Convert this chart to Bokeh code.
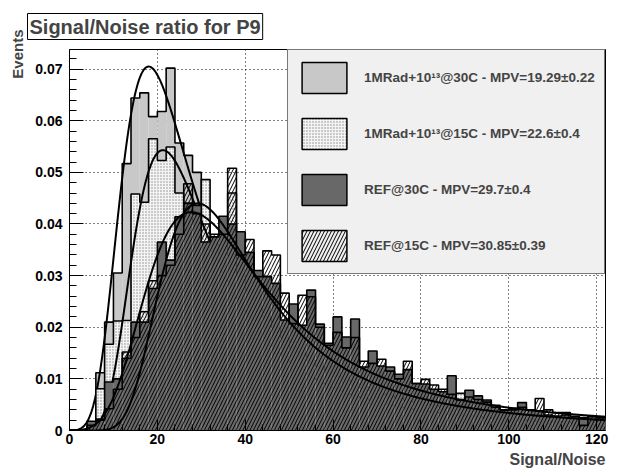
import numpy as np
from bokeh.plotting import figure
from bokeh.models import (Range1d, Title, Legend, LegendItem, FixedTicker,
                          CustomJSTickFormatter)
from bokeh.embed import file_html
from bokeh.resources import INLINE

# ---------------- data ----------------
bin_edges = [2.0 * k for k in range(62)]          # 61 bins of width 2, 0..122

irr30 = [0, 0, 0.0008, 0.0112, 0.021, 0.0305, 0.0517, 0.0644, 0.0654, 0.0608,
         0.0618, 0.0702, 0.0557, 0.0533, 0.0500, 0.040, 0.036, 0.033, 0.030, 0.026,
         0.023, 0.021, 0.019, 0.017, 0.0155, 0.014, 0.0125, 0.0115, 0.0105, 0.0095,
         0.0088, 0.008, 0.0075, 0.007, 0.0065, 0.006, 0.0056, 0.0052, 0.0049, 0.0046,
         0.0043, 0.004, 0.0038, 0.0036, 0.0034, 0.0032, 0.003, 0.0029, 0.0027, 0.0026,
         0.0025, 0.0024, 0.0023, 0.0022, 0.0021, 0.002, 0.0019, 0.0019, 0.0018, 0.0017,
         0.0017]
irr15 = [0, 0, 0.0005, 0.0081, 0.0167, 0.0212, 0.0213, 0.0458, 0.0442, 0.0565,
         0.0523, 0.0549, 0.046, 0.044, 0.040, 0.0486, 0.036, 0.034, 0.046, 0.030,
         0.027, 0.024, 0.022, 0.020, 0.018, 0.016, 0.015, 0.0135, 0.0125, 0.0115,
         0.0105, 0.0097, 0.009, 0.0084, 0.0078, 0.0072, 0.0067, 0.0063, 0.0059, 0.0055,
         0.0052, 0.0049, 0.0046, 0.0044, 0.0072, 0.004, 0.0038, 0.0036, 0.0034, 0.0033,
         0.0031, 0.003, 0.0029, 0.0028, 0.0027, 0.0026, 0.0025, 0.0024, 0.0023, 0.0022,
         0.0021]
ref30 = [0, 0, 0.0018, 0.0022, 0.0094, 0.0100, 0.0140, 0.0210, 0.0210, 0.0275,
         0.0365, 0.0330, 0.0414, 0.0440, 0.0436, 0.0365, 0.0375, 0.0415, 0.0400, 0.0385,
         0.0345, 0.0310, 0.0298, 0.0285, 0.0214, 0.0245, 0.0204, 0.0272, 0.0206, 0.0169,
         0.0220, 0.0181, 0.0216, 0.0123, 0.0154, 0.0125, 0.0123, 0.0109, 0.0118, 0.0091,
         0.0090, 0.0080, 0.0075, 0.0106, 0.0059, 0.0078, 0.0067, 0.0059, 0.0049, 0.0040,
         0.0043, 0.0054, 0.0040, 0.0038, 0.0030, 0.0028, 0.0030, 0.0027, 0.0025, 0.0027,
         0.0025]
ref15 = [0, 0, 0.0010, 0.0020, 0.0042, 0.0080, 0.0152, 0.0180, 0.0230, 0.0290,
         0.0300, 0.0320, 0.0380, 0.0478, 0.0420, 0.0400, 0.0380, 0.0380, 0.0508, 0.0340,
         0.0370, 0.0298, 0.0348, 0.0340, 0.0266, 0.0207, 0.0262, 0.0259, 0.0200, 0.0165,
         0.0190, 0.0160, 0.0180, 0.0134, 0.0130, 0.0138, 0.0115, 0.0100, 0.0134, 0.0091,
         0.0099, 0.0088, 0.0080, 0.0070, 0.0060, 0.0065, 0.0060, 0.0055, 0.0045, 0.0040,
         0.0040, 0.0045, 0.0040, 0.0062, 0.0040, 0.0035, 0.0035, 0.0027, 0.0010, 0.0027,
         0.0025]

labels = ["1MRad+10\u00b9\u00b3@30C - MPV=19.29\u00b10.22",
          "1MRad+10\u00b9\u00b3@15C - MPV=22.6\u00b10.4",
          "REF@30C - MPV=29.7\u00b10.4",
          "REF@15C - MPV=30.85\u00b10.39"]

# Landau fit parameters (ROOT convention: mpv parameter, sigma, peak height)
fit_mpv = [19.29, 22.6, 29.7, 30.85]
fit_sigma = [5.7, 6.0, 9.0, 7.5]
fit_peak = [0.0705, 0.0543, 0.0423, 0.0440]

x_ticks = [0, 20, 40, 60, 80, 100, 120]
y_ticks = [0, 0.01, 0.02, 0.03, 0.04, 0.05, 0.06, 0.07]

# ---------------- Landau density (numerical) ----------------
t = np.linspace(0.0, 60.0, 120001)[1:]
dt = t[1] - t[0]
A = -t * np.log(t)
S = np.sin(np.pi * t)
lam_tab = np.arange(-3.5, 22.0, 0.02)
phi_tab = np.array([np.sum(np.exp(A - lam * t) * S) * dt / np.pi for lam in lam_tab])
phi_tab = np.clip(phi_tab, 0, None)
phi_max = phi_tab.max()


def landau(x, mpv, sigma):
    lam = (x - mpv) / sigma
    out = np.interp(lam, lam_tab, phi_tab, left=0.0, right=phi_tab[-1])
    return out / phi_max


# ---------------- figure ----------------
FONT = "Liberation Sans"
W, H = 627, 470
p = figure(width=W, height=H, x_range=Range1d(0, 122), y_range=Range1d(0, 0.0738),
           output_backend="svg", toolbar_location=None,
           min_border_left=69, min_border_right=22, min_border_top=49, min_border_bottom=40)
p.background_fill_color = "white"
p.border_fill_color = "white"
p.outline_line_color = "black"
p.outline_line_width = 1

p.title.text = "Signal/Noise ratio for P9"
p.title.align = "left"
p.title.offset = -42
p.title.standoff = 20
p.title.text_font = FONT
p.title.text_font_style = "bold"
p.title.text_font_size = "20px"
p.title.border_line_color = "black"
p.title.border_line_width = 1
p.title.background_fill_color = "white"
p.title.padding = 2

p.add_layout(Title(text="Events", align="right", offset=-20, text_font=FONT, text_font_style="bold",
                   text_font_size="15px", standoff=13), "left")
p.add_layout(Title(text="Signal/Noise", align="right", text_font=FONT, text_font_style="bold",
                   text_font_size="16px", standoff=4), "below")

edges = np.array(bin_edges)
left = edges[:-1]
right = edges[1:]

styles = [
    dict(fill_color="#c8c8c8"),
    dict(fill_color="#f4f4f4", hatch_pattern=".", hatch_color="#8a8a8a", hatch_scale=3, hatch_weight=1),
    dict(fill_color="#686868"),
    dict(fill_alpha=0.0, hatch_pattern="/", hatch_color="black", hatch_scale=7, hatch_weight=1),
]
series = [irr30, irr15, ref30, ref15]

legend_renderers = []
for vals, st, mpv, sig, pk in zip(series, styles, fit_mpv, fit_sigma, fit_peak):
    vals = np.array(vals)
    p.quad(left=left, right=right, bottom=0, top=vals, line_color=None, **st)
    sx = np.concatenate([edges[:1], edges])
    sy = np.concatenate([[0.0], vals, vals[-1:]])
    p.step(x=sx, y=sy, mode="after", line_color="black", line_width=1.6)
    xf = np.linspace(edges[0], edges[-1], 611)
    p.line(xf, pk * landau(xf, mpv, sig), line_color="black", line_width=2)
    # zero-size quad, only used to draw the legend swatch
    lr = p.quad(left=left[:1], right=left[:1], bottom=[0], top=[0],
                line_color="black", line_width=1.5, **st)
    legend_renderers.append(lr)

# axes
for ax in (p.xaxis[0], p.yaxis[0]):
    ax.axis_line_color = "black"
    ax.major_tick_out = 0
    ax.minor_tick_out = 0
    ax.major_tick_line_color = "black"
    ax.minor_tick_line_color = "black"
    ax.major_label_text_font = FONT
    ax.major_label_text_font_style = "bold"
    ax.major_label_text_font_size = "14px"
    ax.major_label_text_color = "black"

p.xaxis.ticker = FixedTicker(ticks=x_ticks, minor_ticks=list(range(0, 123, 4)))
p.xaxis.major_tick_in = 11
p.xaxis.minor_tick_in = 6
p.xaxis.major_label_standoff = 3
p.yaxis.ticker = FixedTicker(ticks=y_ticks, minor_ticks=[k * 0.002 for k in range(37)])
p.yaxis.major_tick_in = 14
p.yaxis.minor_tick_in = 7
p.yaxis.major_label_standoff = 7
p.yaxis.formatter = CustomJSTickFormatter(code="return tick == 0 ? '0' : tick.toFixed(2);")

p.xgrid.grid_line_color = "black"
p.ygrid.grid_line_color = "black"
p.xgrid.grid_line_dash = "1 3"
p.ygrid.grid_line_dash = "1 3"
p.xgrid.ticker = FixedTicker(ticks=x_ticks)
p.ygrid.ticker = FixedTicker(ticks=y_ticks)

legend = Legend(items=[LegendItem(label=lab, renderers=[r]) for lab, r in zip(labels, legend_renderers)],
                location="top_right", margin=0, padding=8, spacing=17,
                glyph_width=56, glyph_height=39, label_standoff=12, label_width=232,
                label_text_font=FONT, label_text_font_style="bold", label_text_font_size="13.5px",
                background_fill_color="#f0f0f0", background_fill_alpha=1.0,
                border_line_color="black", border_line_width=1)
p.add_layout(legend)

open("out.html", "w").write(file_html(p, INLINE))
